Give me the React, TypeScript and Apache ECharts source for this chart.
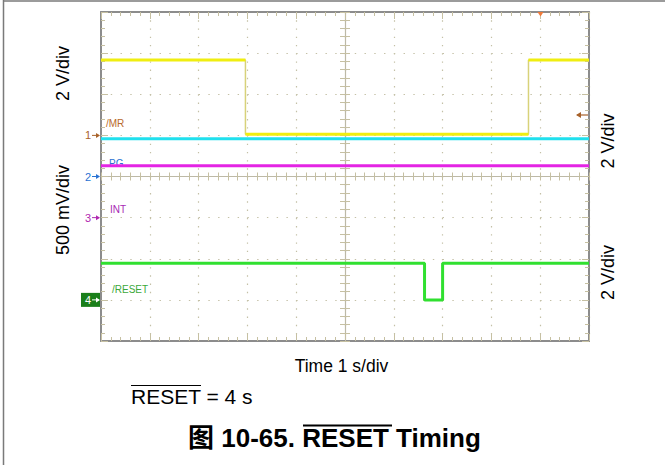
import React, { useEffect, useRef } from "react";
import * as echarts from "echarts";

// Axes in scope divisions: time 1 s/div (10 div), amplitude 8 div
const timeMin = 0;
const timeMax = 10;
const levelMin = 0;
const levelMax = 8;

// Traces (time in s / div, level in div from bottom of screen)
const mrTime = [0, 2.96, 2.96, 8.76, 8.76, 10];
const mrLevel = [6.83, 6.83, 5.03, 5.03, 6.83, 6.83];
const pgTime = [0, 10];
const pgLevel = [4.92, 4.92];
const intTime = [0, 10];
const intLevel = [4.26, 4.26];
const resetTime = [0, 6.63, 6.63, 7.0, 7.0, 10];
const resetLevel = [1.89, 1.89, 1.0, 1.0, 1.89, 1.89];

// Channel ground markers
const channelIds = ["1", "2", "3", "4"];
const channelGround = [5, 4, 3, 1];
const channelColors = ["#a8622a", "#2a72d2", "#b028b0", "#1a7f1a"];
const channelNames = ["/MR", "PG", "INT", "/RESET"];

const scaleLabels = ["2 V/div", "500 mV/div", "2 V/div", "2 V/div"];
const timeLabel = "Time 1 s/div";
const noteLabel = "RESET = 4 s";
const titleLabel = "图 10-65. RESET Timing";

const FONT = '"Liberation Sans", Arial, "Noto Sans CJK SC", sans-serif';
const borderColor = "#8c8c8c";
const tickColor = "#c6c0a2";
const centerColor = "#bdb9a6";
const dotColor = "#c4c0a6";

const pairs = (t: number[], l: number[]) => t.map((x, i) => [x, l[i]]);
const flatSegments = (t: number[], l: number[]) => {
  const out: any[] = [];
  for (let i = 0; i < t.length - 1; i++) {
    if (l[i] === l[i + 1]) {
      out.push([t[i], l[i]], [t[i + 1], l[i + 1]], [t[i + 1], "-"]);
    }
  }
  return out;
};

function xAxisDef(position: string, opts: any) {
  return {
    type: "value",
    min: timeMin,
    max: timeMax,
    interval: 1,
    position,
    offset: opts.offset || 0,
    axisLabel: { show: false },
    axisLine: {
      show: opts.line !== false,
      onZero: false,
      lineStyle: opts.lineStyle || { color: borderColor, width: 2 },
    },
    axisTick: { show: true, inside: opts.inside, length: opts.major, lineStyle: { color: tickColor, width: 1 } },
    minorTick: { show: true, splitNumber: 5, length: opts.minor, lineStyle: { color: tickColor, width: 1 } },
    splitLine: opts.split
      ? { show: true, lineStyle: { color: dotColor, width: 1.2, type: [1.4, 6.83] } }
      : { show: false },
    minorSplitLine: { show: false },
  };
}
function yAxisDef(position: string, opts: any) {
  return {
    type: "value",
    min: levelMin,
    max: levelMax,
    interval: 1,
    position,
    offset: opts.offset || 0,
    axisLabel: { show: false },
    axisLine: {
      show: opts.line !== false,
      onZero: false,
      lineStyle: opts.lineStyle || { color: borderColor, width: 2 },
    },
    axisTick: { show: true, inside: opts.inside, length: opts.major, lineStyle: { color: tickColor, width: 1 } },
    minorTick: { show: true, splitNumber: 5, length: opts.minor, lineStyle: { color: tickColor, width: 1 } },
    splitLine: opts.split
      ? { show: true, lineStyle: { color: dotColor, width: 1.2, type: [1.4, 8.36] } }
      : { show: false },
    minorSplitLine: { show: false },
  };
}

function textEl(text: string, x: number, y: number, font: string, fill: string, align = "center", rotation = 0, z = 5) {
  return {
    type: "text",
    x,
    y,
    rotation,
    z,
    style: {
      text,
      font,
      fill,
      textAlign: align,
      align,
      textVerticalAlign: "middle",
      verticalAlign: "middle",
    },
  };
}

export default function App() {
  const ref = useRef<HTMLDivElement>(null);
  useEffect(() => {
    const chart = echarts.init(ref.current!, null, { renderer: "svg" });
    const gridLeft = 101;
    const gridTop = 12;
    const gridW = 488;
    const gridH = 329;
    chart.setOption({
      animation: false,
      backgroundColor: "#ffffff",
      grid: { left: gridLeft, top: gridTop, width: gridW, height: gridH, containLabel: false, outerBoundsMode: "none" },
      xAxis: [
        xAxisDef("bottom", { inside: true, major: 7, minor: 4, split: true }),
        xAxisDef("top", { inside: true, major: 7, minor: 4 }),
        xAxisDef("bottom", { offset: -gridH / 2, inside: true, major: 4, minor: 4, lineStyle: { color: centerColor, width: 1.2 } }),
        xAxisDef("bottom", { offset: -gridH / 2, inside: false, major: 4, minor: 4, line: false }),
      ],
      yAxis: [
        yAxisDef("left", { inside: true, major: 7, minor: 4, split: true }),
        yAxisDef("right", { inside: true, major: 7, minor: 4 }),
        yAxisDef("left", { offset: -gridW / 2, inside: true, major: 5, minor: 5, lineStyle: { color: centerColor, width: 1.2 } }),
        yAxisDef("left", { offset: -gridW / 2, inside: false, major: 5, minor: 5, line: false }),
      ],
      series: [
        {
          name: "/MR edges",
          type: "line",
          symbol: "none",
          silent: true,
          data: pairs(mrTime, mrLevel),
          lineStyle: { color: "#d8d27a", width: 1.5 },
          z: 3,
        },
        {
          name: "/MR",
          type: "line",
          symbol: "none",
          connectNulls: false,
          data: flatSegments(mrTime, mrLevel),
          lineStyle: { color: "#f0ee10", width: 3 },
          z: 4,
        },
        {
          name: "PG",
          type: "line",
          symbol: "none",
          data: pairs(pgTime, pgLevel),
          lineStyle: { color: "#20e0ee", width: 3 },
          z: 3,
        },
        {
          name: "INT",
          type: "line",
          symbol: "none",
          data: pairs(intTime, intLevel),
          lineStyle: { color: "#e424e4", width: 3 },
          z: 3,
        },
        {
          name: "/RESET",
          type: "line",
          symbol: "none",
          data: pairs(resetTime, resetLevel),
          lineStyle: { color: "#30e030", width: 3 },
          z: 3,
        },
      ],
    });

    const px = (t: number, l: number) =>
      chart.convertToPixel({ xAxisIndex: 0, yAxisIndex: 0 } as any, [t, l]) as number[];

    const g: any[] = [];
    // outer frame
    g.push({ type: "line", shape: { x1: 3.5, y1: 0, x2: 3.5, y2: 465 }, style: { stroke: "#7a7a7a", lineWidth: 1.5 } });
    g.push({ type: "line", shape: { x1: 3, y1: 1, x2: 665, y2: 1 }, style: { stroke: "#7a7a7a", lineWidth: 1.5 } });

    // scale labels
    const scaleFont = `18px ${FONT}`;
    g.push(textEl(scaleLabels[0], 63, 73.5, scaleFont, "#000", "center", Math.PI / 2));
    g.push(textEl(scaleLabels[1], 63, 210, scaleFont, "#000", "center", Math.PI / 2));
    g.push(textEl(scaleLabels[2], 608, 141, scaleFont, "#000", "center", Math.PI / 2));
    g.push(textEl(scaleLabels[3], 608, 272.5, scaleFont, "#000", "center", Math.PI / 2));

    // ground markers
    channelIds.forEach((id, i) => {
      const [x0, y] = px(timeMin, channelGround[i]);
      const isBox = i === 3;
      const col = isBox ? "#ffffff" : channelColors[i];
      if (isBox) {
        g.push({ type: "rect", shape: { x: x0 - 20, y: y - 7, width: 19, height: 14 }, style: { fill: channelColors[i] }, z: 4 });
      }
      g.push(textEl(id, x0 - 13, y, `11px ${FONT}`, col, "center", 0, 6));
      g.push({ type: "line", shape: { x1: x0 - 9, y1: y, x2: x0 - 2, y2: y }, style: { stroke: col, lineWidth: 1 }, z: 6 });
      g.push({
        type: "polygon",
        shape: { points: [[x0 - 5, y - 2.5], [x0 - 1, y], [x0 - 5, y + 2.5]] },
        style: { fill: col },
        z: 6,
      });
    });

    // channel names inside the graticule
    const nameFont = `10px ${FONT}`;
    g.push(textEl(channelNames[0], 106, 123.5, nameFont, "#b86a2c", "left", 0, 1));
    g.push(textEl(channelNames[1], 109, 163.5, nameFont, "#2a72d2", "left", 0, 1));
    g.push(textEl(channelNames[2], 110, 209.5, nameFont, "#a828b4", "left", 0, 1));
    g.push(textEl(channelNames[3], 112, 289.5, nameFont, "#3aa83a", "left", 0, 1));

    // right side arrow & trigger marker
    g.push({ type: "line", shape: { x1: 577, y1: 115, x2: 588, y2: 115 }, style: { stroke: "#a8622a", lineWidth: 1.2 }, z: 6 });
    g.push({ type: "polygon", shape: { points: [[581, 112], [576, 115], [581, 118]] }, style: { fill: "#a8622a" }, z: 6 });
    g.push({ type: "polygon", shape: { points: [[537.5, 12], [543.5, 12], [540.5, 16.5]] }, style: { fill: "#f07a3a" }, z: 6 });

    // bottom texts
    g.push(textEl(timeLabel, 341.5, 366, `17.5px ${FONT}`, "#000", "center"));
    g.push(textEl(noteLabel, 131, 396, `21px ${FONT}`, "#000", "left"));
    g.push({ type: "line", shape: { x1: 131, y1: 385.5, x2: 201, y2: 385.5 }, style: { stroke: "#000", lineWidth: 1.2 } });
    g.push(textEl(titleLabel, 188, 437.5, `bold 26px ${FONT}`, "#000", "left"));
    g.push({ type: "line", shape: { x1: 303, y1: 425.5, x2: 392, y2: 425.5 }, style: { stroke: "#000", lineWidth: 2 } });

    chart.setOption({ graphic: g });
    return () => chart.dispose();
  }, []);
  return <div ref={ref} style={{ position: "fixed", left: 0, top: 0, width: 665, height: 465 }} />;
}
